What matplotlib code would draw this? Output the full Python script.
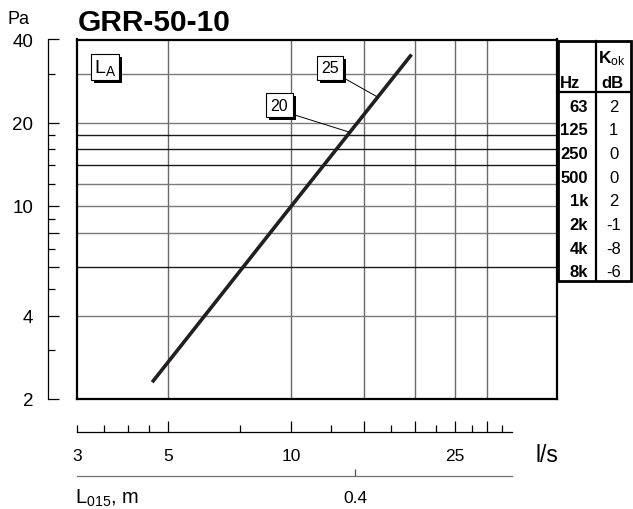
import matplotlib
matplotlib.use("Agg")
import matplotlib.pyplot as plt
from matplotlib.ticker import FixedLocator, FixedFormatter, NullLocator, NullFormatter
from matplotlib.patches import Rectangle
import matplotlib.patheffects as pe

plt.rcParams['font.family'] = ['Liberation Sans', 'DejaVu Sans']
plt.rcParams['mathtext.fontset'] = 'custom'
plt.rcParams['mathtext.rm'] = 'Liberation Sans'
plt.rcParams['mathtext.it'] = 'Liberation Sans:italic'
plt.rcParams['mathtext.bf'] = 'Liberation Sans:bold'
plt.rcParams['mathtext.default'] = 'regular'

# ---------------- data ----------------
title = "GRR-50-10"
flow = [4.58, 10.0, 19.6]          # l/s
pressure = [2.30, 10.0, 35.3]      # Pa

# velocity labels (m/s) pointing to the curve
vel_labels = ["20", "25"]
vel_point_flow = [13.8, 16.1]
vel_point_pa = [18.5, 24.9]
vel_text_flow = [9.34, 12.42]
vel_text_pa = [23.1, 31.6]

# axes
x_min, x_max = 3, 44.3
y_min, y_max = 2, 40
grid_x = [5, 10, 15, 20, 25, 30]
grid_y = [30, 20, 18, 16, 14, 12, 10, 8, 6, 4]
grid_y_dark = [18, 16, 14, 6]

y_major = [2, 4, 6, 8, 10, 20, 40]
y_major_labels = ["2", "4", "", "", "10", "20", "40"]
y_minor = [3, 5, 7, 9, 12, 14, 16, 18, 30]

x_major = [5, 10, 15, 20, 25, 30]
x_major_labels = ["5", "10", "", "", "25", ""]
x_minor = [3, 3.5, 4, 4.5, 7.5, 12.5, 17.5, 22.5, 27.5, 32.5]
x_minor_label_vals = [3]
x_axis_end = 34.5

l015_pos = [14.3]
l015_labels = ["0.4"]

# octave band correction table
hz = ["63", "125", "250", "500", "1k", "2k", "4k", "8k"]
kok = ["2", "1", "0", "0", "2", "-1", "-8", "-6"]

# ---------------- figure ----------------
W, H = 633, 510
fig = plt.figure(figsize=(W / 100, H / 100), dpi=100)

def fx(px):
    return px / W

def fy(py):
    return 1 - py / H

shadow_fx = [pe.SimplePatchShadow(offset=(2.2, -2.2), shadow_rgbFace='black', alpha=1.0),
             pe.Normal()]

L, R, T, B = 76.7, 557.0, 40.5, 400.0
ax = fig.add_axes([fx(L), fy(B), (R - L) / W, (B - T) / H])
ax.set_xscale('log')
ax.set_yscale('log')
ax.set_xlim(x_min, x_max)
ax.set_ylim(y_min, y_max)
for a in (ax.xaxis, ax.yaxis):
    a.set_major_locator(NullLocator())
    a.set_minor_locator(NullLocator())
for s in ax.spines.values():
    s.set_linewidth(1.6)
    s.set_color('black')

for v in grid_x:
    ax.axvline(v, color='#6a6a6a', lw=1.0, zorder=1)
for v in grid_y:
    ax.axhline(v, color='#1a1a1a' if v in grid_y_dark else '#7a7a7a', lw=1.0, zorder=1)

ax.plot(flow, pressure, color='#231f20', lw=2.6, solid_capstyle='butt', zorder=3)

for lab, px_, py_, tx, ty in zip(vel_labels, vel_point_flow, vel_point_pa, vel_text_flow, vel_text_pa):
    an = ax.annotate(lab, xy=(px_, py_), xytext=(tx, ty), textcoords='data',
                     ha='center', va='center', fontsize=11.5, zorder=5,
                     bbox=dict(boxstyle='square,pad=0.28', fc='white', ec='black', lw=0.8),
                     arrowprops=dict(arrowstyle='-', color='black', lw=0.7,
                                     shrinkA=0, shrinkB=0, relpos=(1, 0)))
    an.get_bbox_patch().set_path_effects(shadow_fx)

# L_A box
la = ax.text(0.0585, 0.9235, r'L$_{A}$', transform=ax.transAxes, ha='center', va='center',
             fontsize=14, zorder=5,
             bbox=dict(boxstyle='square,pad=0.14', fc='white', ec='black', lw=0.8))
la.get_bbox_patch().set_path_effects(shadow_fx)

# ---------------- y tick axis (detached) ----------------
ay = fig.add_axes([fx(47.5), fy(B), 0.02, (B - T) / H])
ay.set_yscale('log')
ay.set_ylim(y_min, y_max)
ay.patch.set_visible(False)
for k in ('top', 'right', 'bottom'):
    ay.spines[k].set_visible(False)
ay.spines['left'].set_linewidth(0.9)
ay.set_xticks([])
ay.yaxis.set_major_locator(FixedLocator(y_major))
ay.yaxis.set_major_formatter(FixedFormatter(y_major_labels))
ay.yaxis.set_minor_locator(FixedLocator(y_minor))
ay.yaxis.set_minor_formatter(NullFormatter())
ay.tick_params(axis='y', which='major', direction='in', length=7.6, width=0.9,
               pad=10.4, labelsize=13.5)
ay.tick_params(axis='y', which='minor', direction='in', length=5.2, width=0.9)
fig.text(fx(18.5), fy(19), "Pa", ha='center', va='center', fontsize=13)

# ---------------- bottom flow axis ----------------
ab = fig.add_axes([fx(L), fy(433), (R - L) / W, 0.02])
ab.set_xscale('log')
ab.set_xlim(x_min, x_max)
ab.patch.set_visible(False)
for k in ('top', 'right', 'left'):
    ab.spines[k].set_visible(False)
ab.spines['bottom'].set_linewidth(0.9)
ab.spines['bottom'].set_bounds(x_min, x_axis_end)
ab.set_yticks([])
ab.xaxis.set_major_locator(FixedLocator(x_major))
ab.xaxis.set_major_formatter(FixedFormatter(x_major_labels))
ab.xaxis.set_minor_locator(FixedLocator(x_minor))
ab.xaxis.set_minor_formatter(
    FixedFormatter([("%g" % v) if v in x_minor_label_vals else "" for v in x_minor]))
ab.tick_params(axis='x', which='major', direction='in', length=7.7, width=0.9,
               pad=11.5, labelsize=12.5)
ab.tick_params(axis='x', which='minor', direction='in', length=4.8, width=0.9,
               pad=11.5, labelsize=12.5)
fig.text(fx(546.7), fy(456), "l/s", ha='center', va='center', fontsize=16.5)

# ---------------- L015 axis ----------------
al = fig.add_axes([fx(L), fy(476.7), (R - L) / W, 0.02])
al.set_xscale('log')
al.set_xlim(x_min, x_max)
al.patch.set_visible(False)
for k in ('top', 'right', 'left'):
    al.spines[k].set_visible(False)
al.spines['bottom'].set_linewidth(0.9)
al.spines['bottom'].set_color('#707070')
al.spines['bottom'].set_bounds(x_min, x_axis_end)
al.set_yticks([])
al.xaxis.set_major_locator(FixedLocator(l015_pos))
al.xaxis.set_major_formatter(FixedFormatter(l015_labels))
al.xaxis.set_minor_locator(NullLocator())
al.tick_params(axis='x', which='major', direction='in', length=5, width=0.9,
               color='#505050', pad=10, labelsize=12.5)
fig.text(fx(75), fy(498), r'L$_{015}$, m', ha='left', va='center', fontsize=14.5)

# ---------------- title ----------------
fig.text(fx(78), fy(23), title, ha='left', va='center', fontsize=21.5, fontweight='bold')

# ---------------- table ----------------
ov = fig.add_axes([0, 0, 1, 1])
ov.set_xlim(0, W)
ov.set_ylim(H, 0)
ov.axis('off')
ov.patch.set_visible(False)
tl, tr, tt, tb = 557.5, 631.0, 41.5, 281.5
tmid, thead = 595.7, 93.3
ov.add_patch(Rectangle((tl, tt), tr - tl, tb - tt, fill=False, ec='black', lw=2.0))
ov.plot([tmid, tmid], [tt, tb], color='black', lw=1.6)
ov.plot([tl, tr], [thead, thead], color='black', lw=1.6)
ov.text(559.5, 83.5, "Hz", ha='left', va='center', fontsize=12, fontweight='bold')
ov.text(612.5, 83.5, "dB", ha='center', va='center', fontsize=12, fontweight='bold')
ov.text(612, 59, r'$\mathbf{K}_{ok}$', ha='center', va='center', fontsize=12.5)
row0, dy = 107.3, 23.63
for i, (h_, k_) in enumerate(zip(hz, kok)):
    yy = row0 + i * dy
    ov.text(588, yy, h_, ha='right', va='center', fontsize=12, fontweight='bold')
    ov.text(613.5, yy, k_, ha='center', va='center', fontsize=12)

fig.savefig("out.png", dpi=100)
